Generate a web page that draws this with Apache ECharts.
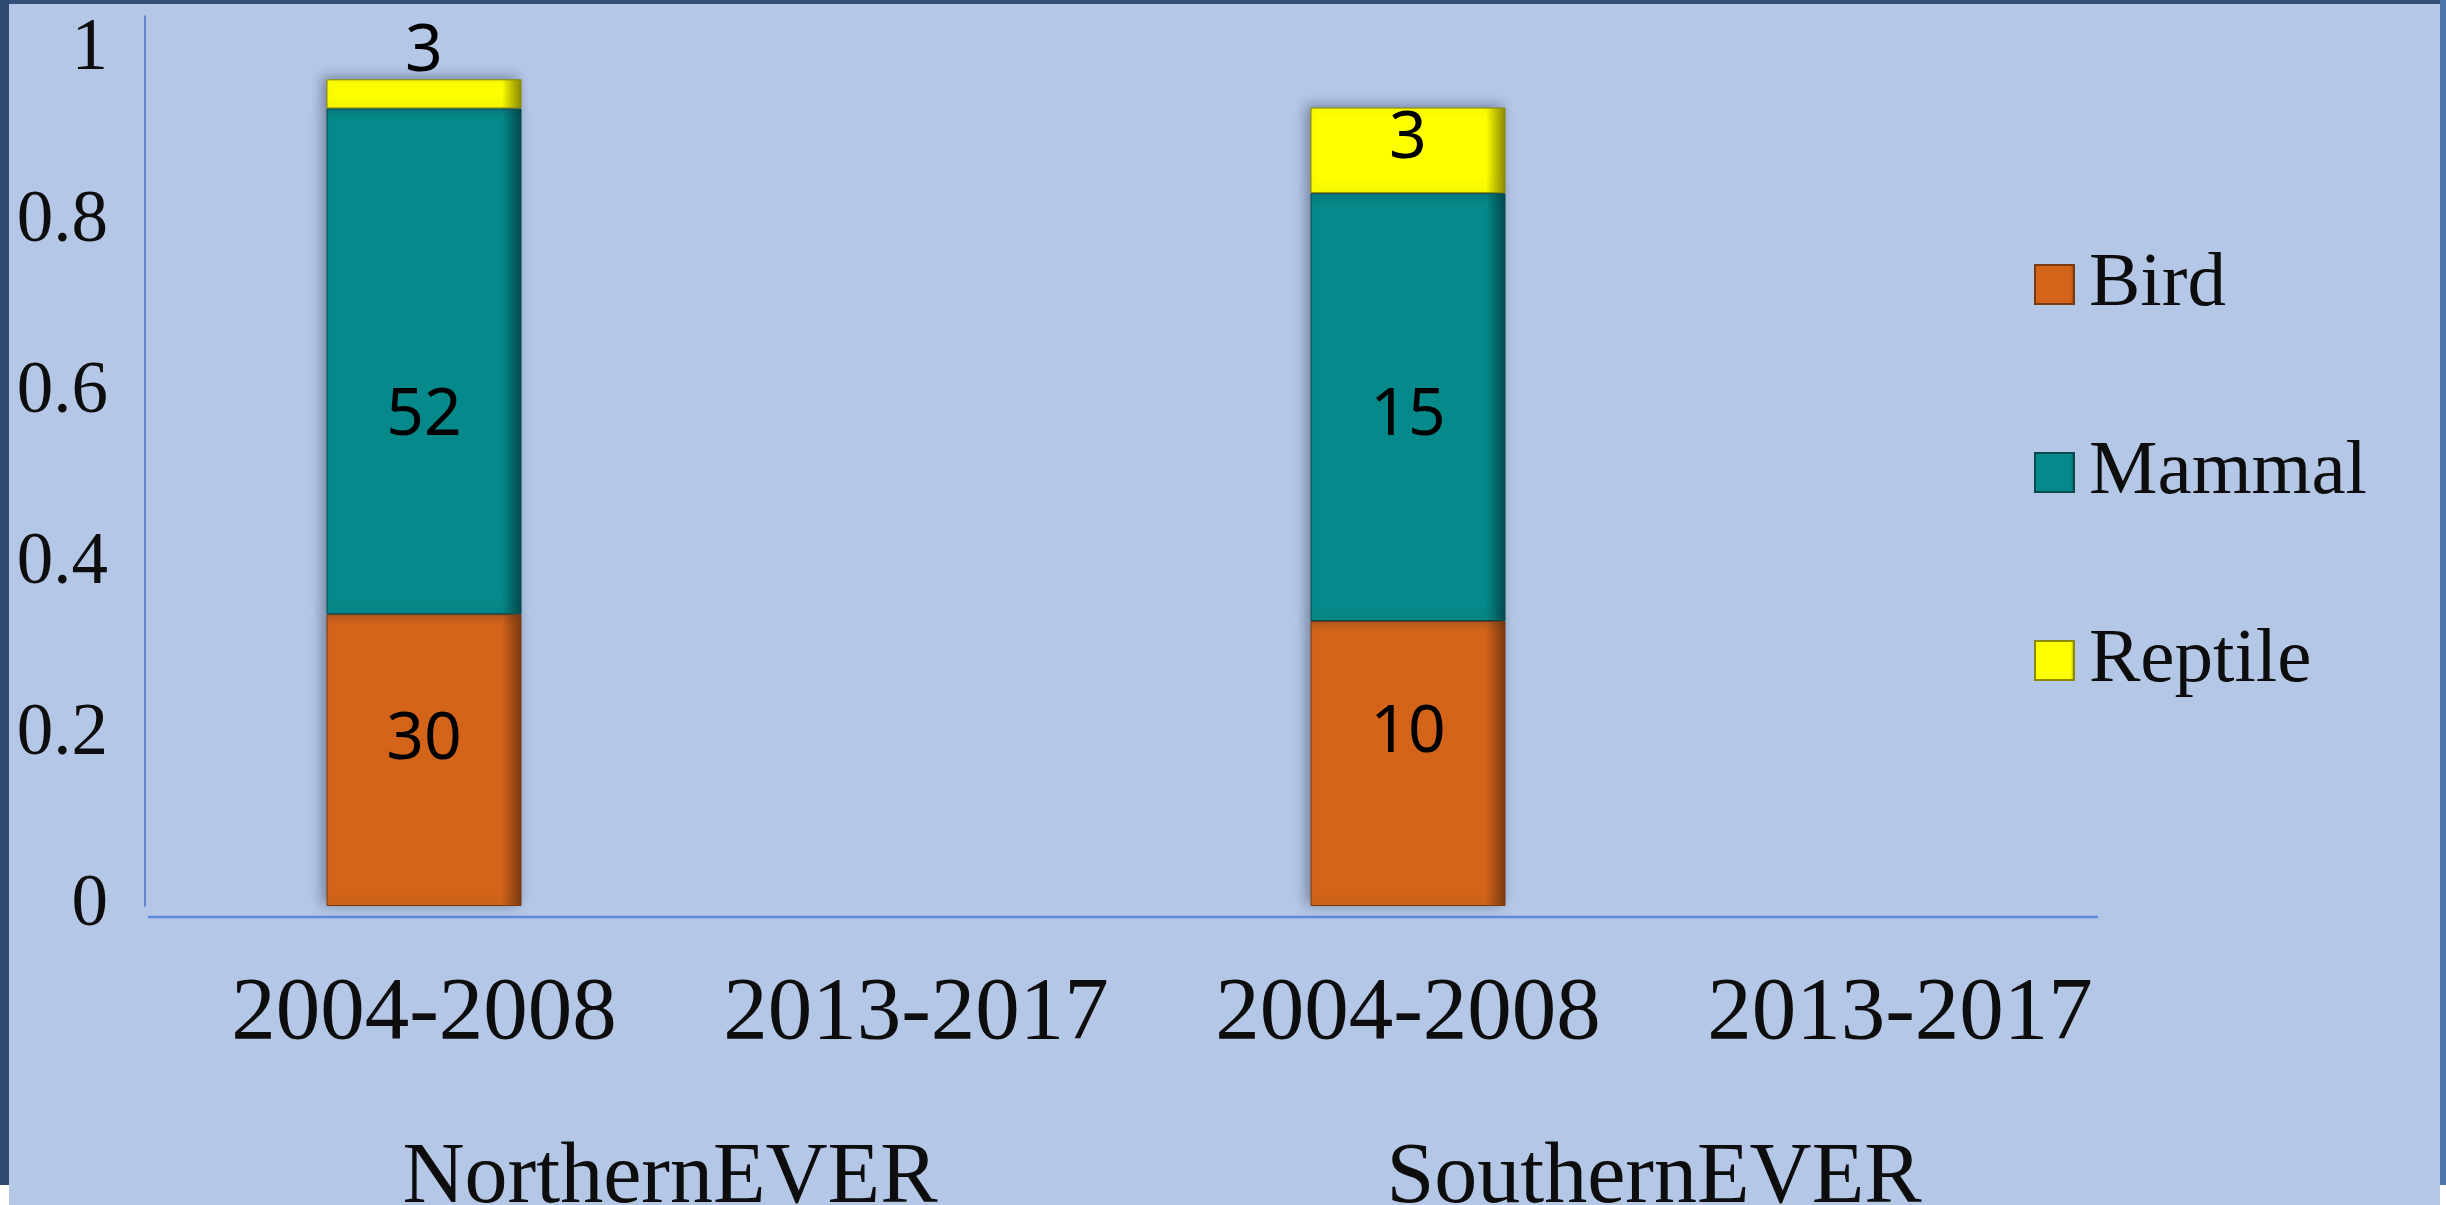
<!DOCTYPE html>
<html>
<head>
<meta charset="utf-8">
<script src="https://cdn.jsdelivr.net/npm/echarts@6/dist/echarts.min.js"></script>
<style>
    html, body { margin: 0; padding: 0; background: #b4c7e7; }
    #chart { width: 2446px; height: 1205px; }
</style>
</head>
<body>
<div id="chart"></div>
<script>
// categories: period under each site
var periods = ['2004-2008', '2013-2017', '2004-2008', '2013-2017'];
var sites = ['NorthernEVER', 'SouthernEVER'];
var seriesNames = ['Bird', 'Mammal', 'Reptile'];

// share of records (bar heights)
var birdShare = [0.341, null, 0.333, null];
var mammalShare = [0.591, null, 0.5, null];
var reptileShare = [0.034, null, 0.1, null];

// counts printed on the bars
var birdCount = [30, null, 10, null];
var mammalCount = [52, null, 15, null];
var reptileCount = [3, null, 3, null];

var yTicks = [0, 0.2, 0.4, 0.6, 0.8, 1];

// styling
var serif = 'Liberation Serif';
var colors = ['#d4641a', '#06898a', '#ffff00'];
var edges = ['#7a3a10', '#034a4b', '#8a8a00'];
// the original labels are not quite centred, nudge them (px)
var labelNudge = [[-20, 0, -30, 0], [55, 0, 9, 0], [0, 0, -11, 0]];

// build data items, small slices get their label above the bar
function buildData(share, count, idx) {
    var out = [];
    for (var i = 0; i < share.length; i++) {
        if (share[i] == null) {
            out.push(null);
            continue;
        }
        var item = { value: share[i], count: count[i], label: { offset: [0, labelNudge[idx][i]] } };
        if (share[i] < 0.05) {
            item.label.position = 'top';
            item.label.distance = -6;
        }
        out.push(item);
    }
    return out;
}

function barSeries(name, share, count, idx) {
    return {
        name: name,
        type: 'bar',
        stack: 'total',
        barWidth: 195,
        xAxisIndex: 0,
        data: buildData(share, count, idx),
        itemStyle: {
            color: {
                type: 'linear', x: 0, y: 0, x2: 1, y2: 0,
                colorStops: [
                    { offset: 0, color: colors[idx] },
                    { offset: 0.9, color: colors[idx] },
                    { offset: 1, color: edges[idx] }
                ]
            },
            borderColor: edges[idx],
            borderWidth: 1,
            shadowColor: 'rgba(40, 45, 70, 0.45)',
            shadowBlur: 12,
            shadowOffsetX: -4,
            shadowOffsetY: -2
        },
        label: {
            show: true,
            position: 'inside',
            fontFamily: 'Noto Sans',
            fontSize: 66,
            lineHeight: 66,
            color: '#000',
            formatter: function (p) {
                return p.data.count;
            }
        }
    };
}

var chart = echarts.init(document.getElementById('chart'));
var option = {
    backgroundColor: '#b4c7e7',
    animation: false,
    grid: {
        left: 178,
        right: 300,
        top: 16,
        bottom: 299,
        containLabel: false,
        outerBoundsMode: 'none'
    },
    legend: {
        orient: 'vertical',
        left: 2029,
        top: 241,
        itemWidth: 39,
        itemHeight: 39,
        itemGap: 111,
        icon: 'rect',
        data: seriesNames,
        textStyle: {
            fontFamily: serif,
            fontSize: 77,
            lineHeight: 76,
            color: '#0d0d0d',
            padding: [0, 0, 0, 10]
        }
    },
    xAxis: [
        {
            type: 'category',
            data: periods,
            position: 'bottom',
            axisLine: { show: false },
            axisTick: { show: false },
            axisLabel: {
                interval: 0,
                margin: 64,
                fontFamily: serif,
                fontSize: 89,
                lineHeight: 89,
                color: '#0d0d0d'
            }
        },
        {
            type: 'category',
            data: sites,
            position: 'bottom',
            axisLine: { show: false },
            axisTick: { show: false },
            axisLabel: {
                interval: 0,
                margin: 230,
                fontFamily: serif,
                fontSize: 86,
                lineHeight: 86,
                color: '#0d0d0d'
            }
        }
    ],
    yAxis: {
        type: 'value',
        min: 0,
        max: 1.04,
        interval: 0.2,
        offset: 33,
        axisLine: { show: true, lineStyle: { color: '#4472c4', width: 1.5 } },
        axisTick: { show: false },
        splitLine: { show: false },
        axisLabel: {
            margin: 37,
            showMaxLabel: false,
            fontFamily: serif,
            fontSize: 73,
            color: '#0d0d0d',
            formatter: function (v) {
                var r = +v.toFixed(2);
                return yTicks.indexOf(r) >= 0 ? String(r) : '';
            }
        }
    },
    graphic: [
        // horizontal axis line
        { type: 'line', shape: { x1: 148, y1: 917, x2: 2098, y2: 917 }, style: { stroke: '#5b88d6', lineWidth: 2.5 } },
        // slide frame
        { type: 'rect', shape: { x: 0, y: 0, width: 2446, height: 4 }, style: { fill: '#33507a' } },
        { type: 'rect', shape: { x: 0, y: 0, width: 9, height: 1185 }, style: { fill: '#2d4a6e' } },
        { type: 'rect', shape: { x: 2440, y: 0, width: 6, height: 1185 }, style: { fill: '#4f76ac' } },
        { type: 'rect', shape: { x: 0, y: 1185, width: 9, height: 20 }, style: { fill: '#ffffff' } },
        { type: 'rect', shape: { x: 2440, y: 1185, width: 6, height: 20 }, style: { fill: '#ffffff' } }
    ],
    series: [
        barSeries('Bird', birdShare, birdCount, 0),
        barSeries('Mammal', mammalShare, mammalCount, 1),
        barSeries('Reptile', reptileShare, reptileCount, 2)
    ]
};
chart.setOption(option);
</script>
</body>
</html>
